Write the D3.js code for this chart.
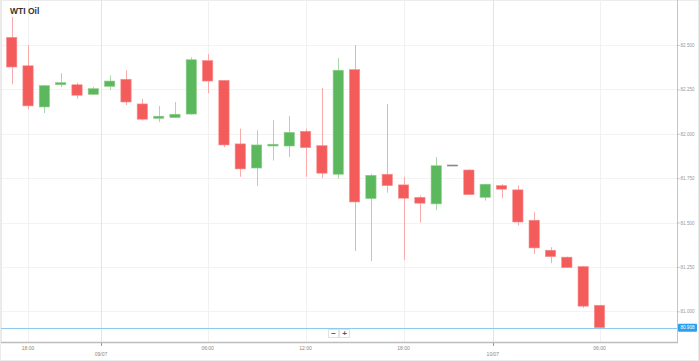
<!DOCTYPE html>
<html><head><meta charset="utf-8">
<script src="https://cdn.jsdelivr.net/npm/d3@7"></script>
<style>html,body{margin:0;padding:0;background:#fff;}svg{display:block;font-family:"Liberation Sans",Arial,sans-serif;}</style>
</head><body>
<svg id="c" width="699" height="361"></svg>
<script>
const title = "WTI Oil";
const opens  = [82.543,82.383,82.151,82.276,82.276,82.222,82.267,82.307,82.168,82.087,82.091,82.111,82.412,82.301,81.943,81.807,81.931,81.931,82.014,81.933,81.772,82.361,81.635,81.772,81.712,81.642,81.605,81.824,81.796,81.642,81.708,81.684,81.513,81.344,81.305,81.252,81.034];
const highs  = [82.658,82.500,82.276,82.341,82.288,82.265,82.329,82.358,82.196,82.157,82.179,82.431,82.449,82.303,82.029,82.020,82.078,82.099,82.029,82.258,82.427,82.500,81.774,82.168,81.758,81.652,81.869,81.824,81.800,81.717,81.716,81.710,81.558,81.361,81.308,81.254,81.036];
const lows   = [82.279,82.138,82.117,82.262,82.198,82.218,82.245,82.162,82.074,82.065,82.089,82.108,82.228,81.924,81.758,81.706,81.849,81.869,81.758,81.749,81.747,81.340,81.282,81.668,81.289,81.500,81.569,81.824,81.655,81.623,81.637,81.483,81.323,81.271,81.244,81.019,80.901];
const closes = [82.376,82.157,82.271,82.288,82.217,82.254,82.297,82.179,82.082,82.099,82.110,82.417,82.297,81.937,81.802,81.937,81.941,82.008,81.922,81.778,82.358,81.616,81.766,81.708,81.637,81.609,81.820,81.824,81.657,81.716,81.688,81.503,81.357,81.308,81.246,81.029,80.908];
const yTicks = [81.0, 81.25, 81.5, 81.75, 82.0, 82.25, 82.5];
const xTickPos    = [1, 5.47, 12, 18, 24, 29.47, 36];
const xTickLabels = ["18:00", "09/07", "06:00", "12:00", "18:00", "10/07", "06:00"];
const xTickIsDate = [false, true, false, false, false, true, false];
const lastPrice = 80.908;

const svg = d3.select("#c");
const W = 699, H = 361;
const plotR = 677, plotB = 342;
const x = d3.scaleLinear().domain([0, opens.length - 1]).range([11.7, 599.5]);
const y = d3.scaleLinear().domain([81.0, 82.5]).range([311.3, 45]);
const bw = 10.3;

// outer frame
svg.append("rect").attr("x",0.5).attr("y",0.5).attr("width",W-1).attr("height",H-1)
  .attr("fill","#fff").attr("stroke","#ececec");

// horizontal grid
svg.append("g").selectAll("line").data(yTicks).join("line")
  .attr("x1",1).attr("x2",plotR).attr("y1",d=>Math.round(y(d))+0.5).attr("y2",d=>Math.round(y(d))+0.5)
  .attr("stroke","#f3f3f3");
// vertical grid
svg.append("g").selectAll("line").data(xTickPos).join("line")
  .attr("x1",d=>Math.round(x(d))+0.5).attr("x2",d=>Math.round(x(d))+0.5)
  .attr("y1",0).attr("y2",plotB)
  .attr("stroke",(d,i)=>xTickIsDate[i]?"#e4e4e4":"#f1f1f1");

// left edge of plot
svg.append("line").attr("x1",1.5).attr("x2",1.5).attr("y1",0).attr("y2",plotB).attr("stroke","#e8e8e8");

// candles
const data = opens.map((o,i)=>({i,o,h:highs[i],l:lows[i],c:closes[i]}));
const col = d => d.c > d.o ? "#5cb85c" : (d.c < d.o ? "#f45b5b" : "#888");
const wickCol = d => d.c > d.o ? "#a9d9a9" : (d.c < d.o ? "#f9abab" : "#888");
const edgeCol = d => d.c > d.o ? "#8fd08f" : (d.c < d.o ? "#f78e8e" : "#888");
const g = svg.append("g");
g.selectAll("line.w").data(data).join("line").attr("class","w")
  .attr("x1",d=>Math.round(x(d.i))+0.5).attr("x2",d=>Math.round(x(d.i))+0.5)
  .attr("y1",d=>y(d.h)).attr("y2",d=>y(d.l))
  .attr("stroke",wickCol).attr("stroke-width",1);
g.selectAll("rect.b").data(data).join("rect").attr("class","b")
  .attr("x",d=>x(d.i)-bw/2).attr("width",bw)
  .attr("y",d=>y(Math.max(d.o,d.c)))
  .attr("height",d=>Math.max(1, Math.abs(y(d.o)-y(d.c))))
  .attr("fill",col).attr("stroke",edgeCol).attr("stroke-width",0.6);

// last price line
svg.append("line").attr("x1",1).attr("x2",plotR).attr("y1",Math.round(y(lastPrice))+0.5).attr("y2",Math.round(y(lastPrice))+0.5)
  .attr("stroke","#8ec9f2").attr("stroke-width",1);

// axes lines
svg.append("line").attr("x1",plotR+0.5).attr("x2",plotR+0.5).attr("y1",0).attr("y2",plotB+1).attr("stroke","#c4c4c4");
svg.append("line").attr("x1",1).attr("x2",plotR+1).attr("y1",plotB+0.5).attr("y2",plotB+0.5).attr("stroke","#bdbdbd").attr("stroke-width",1.5);

// y axis
const ya = svg.append("g").attr("transform",`translate(${plotR+0.5},0)`)
  .call(d3.axisRight(y).tickValues(yTicks).tickSize(2).tickPadding(1).tickFormat(d3.format(".3f")));
ya.select(".domain").remove();
ya.selectAll("line").attr("stroke","#bbb");
ya.selectAll("text").attr("fill","#999").attr("font-size","4.6px");

// last price label
const lp = svg.append("g").attr("transform",`translate(678,${y(lastPrice)})`);
lp.append("rect").attr("x",0).attr("y",-4).attr("width",19).attr("height",8).attr("rx",1).attr("fill","#2e9fea");
lp.append("text").attr("x",9.5).attr("y",1.7).attr("text-anchor","middle").attr("fill","#fff")
  .attr("font-size","4.6px").text(d3.format(".3f")(lastPrice));

// x axis
const xa = svg.append("g").attr("transform",`translate(0,${plotB+1})`);
xa.selectAll("line").data(xTickPos).join("line")
  .attr("x1",d=>Math.round(x(d))+0.5).attr("x2",d=>Math.round(x(d))+0.5)
  .attr("y1",0).attr("y2",(d,i)=>xTickIsDate[i]?3:0).attr("stroke","#999");
xa.selectAll("text").data(xTickPos).join("text")
  .attr("x",d=>x(d)).attr("y",(d,i)=>xTickIsDate[i]?13:6.5)
  .attr("text-anchor","middle").attr("fill","#888").attr("font-size","5px")
  .text((d,i)=>xTickLabels[i]);

// zoom buttons
const zb = svg.append("g").attr("transform","translate(328,329)");
[["−",0],["+",11]].forEach(([s,dx])=>{
  zb.append("rect").attr("x",dx+0.5).attr("y",0.5).attr("width",10).attr("height",8)
    .attr("fill","#fff").attr("stroke","#e2e2e2");
  zb.append("text").attr("x",dx+5.5).attr("y",6.8).attr("text-anchor","middle")
    .attr("font-size","8px").attr("font-weight","bold").attr("fill","#555").text(s);
});

// title
svg.append("text").attr("x",10).attr("y",14).attr("font-size","8.5px").attr("font-weight","bold")
  .attr("fill","#333").text(title);
</script>
</body></html>
